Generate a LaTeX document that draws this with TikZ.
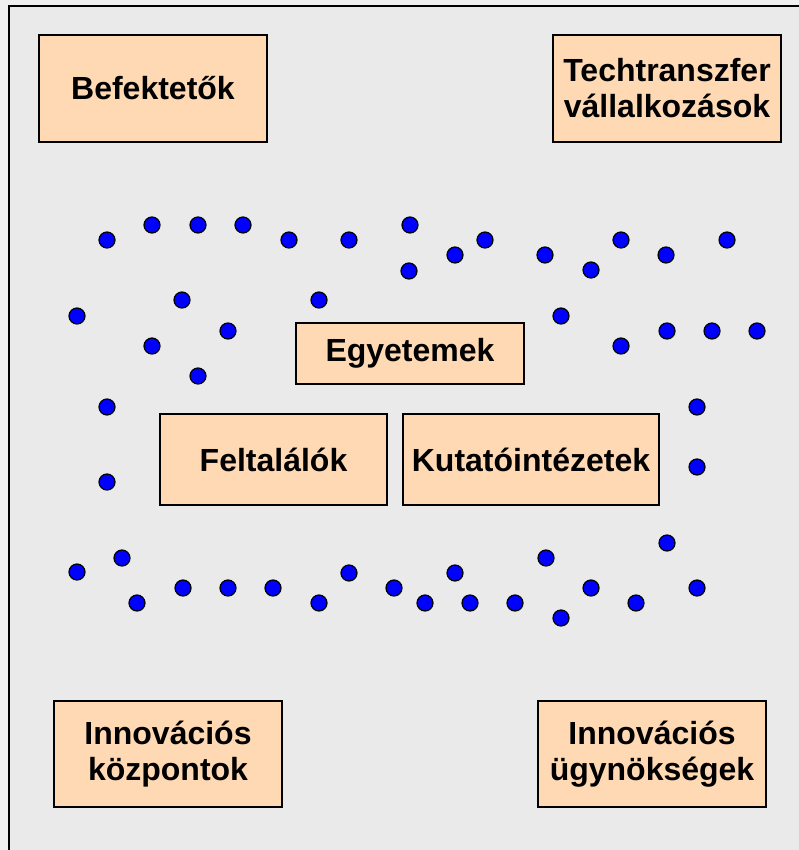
\documentclass[tikz,border=0pt]{standalone}
\usepackage{fontspec}
\setmainfont{Liberation Sans}
\definecolor{peach}{HTML}{FFD9B3}
\definecolor{bgout}{HTML}{F0F0F0}
\definecolor{bgin}{HTML}{EAEAEA}
\definecolor{dotblue}{HTML}{0000FF}
\tikzset{
  box/.style={draw=black, line width=1.8pt, fill=peach, align=center, inner sep=0pt,
    font=\fontsize{32}{36}\selectfont\bfseries},
  pt/.style={circle, draw=black, line width=1.2pt, fill=dotblue, minimum size=16pt, inner sep=0pt}
}
\begin{document}
\begin{tikzpicture}[x=1pt,y=-1pt]
\useasboundingbox (0,0) rectangle (799,850);
\fill[bgout] (0,0) rectangle (799,850);
\fill[bgin] (9,6) rectangle (799,850);
\draw[line width=2pt] (9,850) -- (9,6) -- (799,6);
% boxes
\node[box, minimum width=228pt, minimum height=107pt] (bef) at (153,88.5) {Befektetők};
\node[box, minimum width=228pt, minimum height=107pt] (tech) at (667,88.5) {Techtranszfer\\vállalkozások};
\node[box, minimum width=228pt, minimum height=61pt] (egy) at (410,353.5) {Egyetemek};
\node[box, minimum width=227pt, minimum height=91pt] (fel) at (273.5,459.5) {Feltalálók};
\node[box, minimum width=256pt, minimum height=91pt] (kut) at (531,459.5) {Kutatóintézetek};
\node[box, minimum width=228pt, minimum height=106pt] (ikp) at (168,754) {Innovációs\\központok};
\node[box, minimum width=228pt, minimum height=106pt] (iug) at (652,754) {Innovációs\\ügynökségek};
% dots
\foreach \x/\y [count=\i] in {
 107/240, 152/225, 198/225, 243/225, 289/240, 349/240, 182/300, 319/300,
 77/316, 228/331, 152/346, 198/376, 107/407, 107/482,
 410/225, 409/271, 455/255, 485/240, 545/255, 591/270, 621/240, 666/255, 727/240,
 561/316, 667/331, 712/331, 757/331, 621/346, 697/407, 697/467,
 77/572, 122/558, 137/603, 183/588, 228/588, 273/588, 319/603, 349/573, 394/588,
 425/603, 455/573, 470/603, 515/603, 546/558, 561/618, 591/588, 636/603, 667/543, 697/588}
 { \node[pt] (d\i) at (\x,\y) {}; }
\end{tikzpicture}
\end{document}
